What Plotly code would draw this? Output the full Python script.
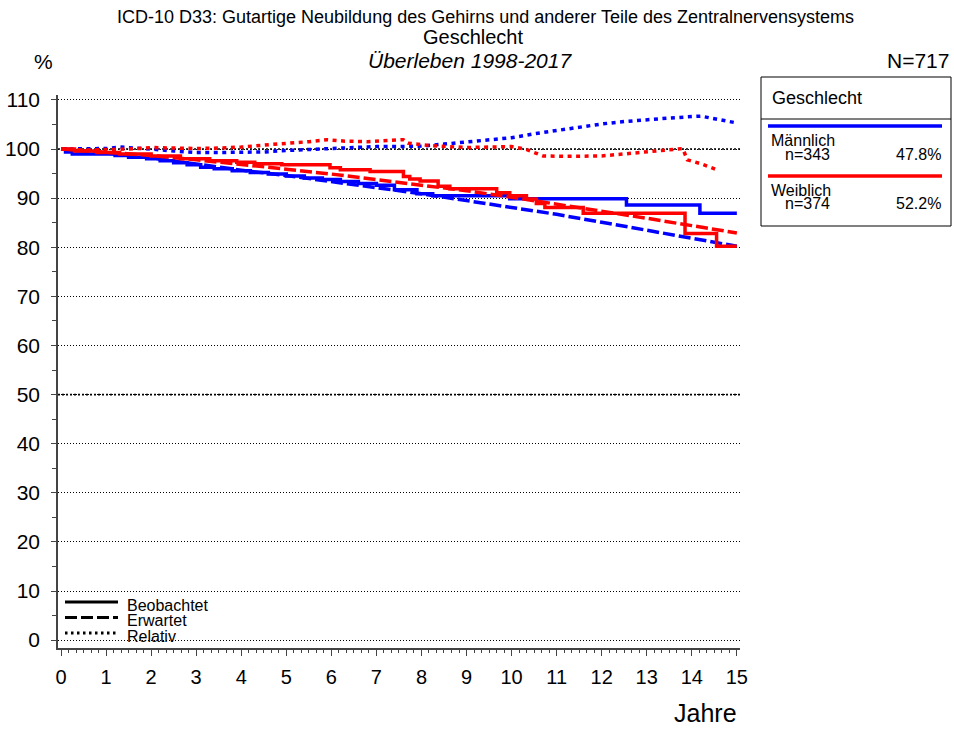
import plotly.graph_objects as go

# ---------------- data ----------------
years_exp = [0, 1, 2, 3, 4, 5, 6, 7, 8, 9, 10, 11, 12, 13, 14, 15]
male_expected = [100, 99.2, 98.2, 96.9, 95.7, 94.6, 93.4, 92.2, 90.9, 89.5, 88.1, 86.7, 85.1, 83.5, 81.9, 80.2]
female_expected = [100, 99.4, 98.7, 97.8, 96.9, 95.9, 94.9, 93.8, 92.7, 91.5, 90.2, 88.8, 87.3, 85.9, 84.4, 82.9]

male_obs_t = [0, 0.1, 0.25, 1.2, 1.5, 1.9, 2.2, 2.5, 2.8, 3.1, 3.4, 3.8, 4.2, 4.6, 5.0, 5.4, 5.8,
              6.2, 6.6, 7.0, 7.4, 7.9, 8.25, 9.96, 12.55, 14.18, 15]
male_obs_v = [100, 99.4, 99.0, 98.7, 98.3, 98.0, 97.6, 97.2, 96.8, 96.3, 96.0, 95.6, 95.2, 94.9, 94.5,
              94.1, 93.8, 93.4, 93.0, 92.6, 91.7, 90.9, 90.5, 89.9, 88.6, 86.9, 86.9]

female_obs_t = [0, 0.3, 0.8, 1.3, 2.0, 2.65, 3.3, 3.9, 4.3, 4.9, 5.97, 6.2, 6.86, 7.6, 7.74, 7.97,
                8.37, 8.63, 9.67, 9.96, 10.33, 10.55, 10.74, 11.59, 13.85, 14.55, 15]
female_obs_v = [100, 99.6, 99.3, 99.0, 98.6, 98.0, 97.6, 97.3, 97.0, 96.8, 96.2, 95.8, 95.4, 94.4,
                93.9, 93.5, 92.4, 91.9, 91.1, 90.5, 89.8, 88.9, 88.1, 86.9, 82.8, 80.2, 80.2]

male_rel_t = [0, 0.5, 1, 1.3, 1.7, 2, 2.5, 3, 3.5, 4, 4.5, 5, 5.5, 6, 6.5, 7, 7.5, 8, 8.5, 9, 9.5,
              10, 10.5, 11, 11.5, 12, 12.5, 13, 13.5, 14, 14.2, 14.6, 15]
male_rel_v = [100, 100, 100.1, 100.4, 100.2, 100, 99.6, 99.3, 99.3, 99.3, 99.4, 99.7, 99.9, 100,
              100.2, 100.5, 100.5, 100.6, 101, 101.4, 101.8, 102.3, 103.1, 103.8, 104.5, 105.1,
              105.6, 106, 106.3, 106.6, 106.7, 106, 105.3]

female_rel_t = [0, 0.5, 1, 1.5, 2, 2.5, 3, 3.5, 4, 4.5, 5, 5.5, 5.9, 6.3, 6.8, 7.2, 7.6, 7.7, 8.2,
                8.6, 9, 9.5, 10, 10.3, 10.7, 11.2, 12, 12.5, 13, 13.5, 13.8, 13.9, 14.2, 14.55]
female_rel_v = [100, 99.8, 99.9, 100, 100.3, 100.2, 100.1, 100.2, 100.4, 100.8, 101.1, 101.5, 101.9,
                101.6, 101.5, 101.7, 101.9, 101.2, 100.7, 100.5, 100.3, 100.4, 100.5, 100, 98.6,
                98.5, 98.6, 99, 99.4, 99.8, 100.1, 97.8, 97, 95.8]

x_ticks = list(range(0, 16))
y_ticks = list(range(0, 111, 10))

groups = ["Männlich", "Weiblich"]
group_n = ["n=343", "n=374"]
group_pct = ["47.8%", "52.2%"]
group_colors = ["#0000ff", "#ff0000"]
style_labels = ["Beobachtet", "Erwartet", "Relativ"]

# ---------------- layout helpers ----------------
W, H = 954, 729
L, R, T, B = 58, 740, 95, 648
FONT = "Liberation Sans, Arial, sans-serif"
DOT = "4px,4.5px"
DASH = "12px,4px"


def px(x):
    return (x - L) / (R - L)


def py(y):
    return (B - y) / (B - T)


fig = go.Figure()

series = [
    (male_obs_t, male_obs_v, group_colors[0], "solid", "hv"),
    (years_exp, male_expected, group_colors[0], DASH, "linear"),
    (male_rel_t, male_rel_v, group_colors[0], DOT, "linear"),
    (female_obs_t, female_obs_v, group_colors[1], "solid", "hv"),
    (years_exp, female_expected, group_colors[1], DASH, "linear"),
    (female_rel_t, female_rel_v, group_colors[1], DOT, "linear"),
]
for t, v, c, d, s in series:
    fig.add_trace(go.Scatter(x=t, y=v, mode="lines",
                             line=dict(color=c, width=3.5, dash=d, shape=s),
                             showlegend=False, hoverinfo="skip"))

# stronger dotted reference lines at 50 and 100
for yv in (50, 100):
    fig.add_shape(type="line", xref="paper", yref="y", x0=0, x1=1, y0=yv, y1=yv,
                  line=dict(color="black", width=1.6, dash="2px,2px"), layer="below")

ann = []
shapes = []


def text(x, y, s, size, xanchor="left", yanchor="middle", italic=False):
    ann.append(dict(x=px(x), y=py(y), xref="paper", yref="paper", text=s, showarrow=False,
                    xanchor=xanchor, yanchor=yanchor,
                    font=dict(family=FONT, size=size, color="black",
                              style="italic" if italic else "normal")))


# titles
text(485, 17, "ICD-10 D33: Gutartige Neubildung des Gehirns und anderer Teile des Zentralnervensystems", 18, "center")
text(473, 37, "Geschlecht", 20, "center")
text(470, 60, "Überleben 1998-2017", 21, "center", italic=True)
text(43, 62, "%", 21, "center")
text(951, 61, "N=717", 21, "right")
text(705, 713, "Jahre", 25, "center")

# right legend box
shapes.append(dict(type="rect", xref="paper", yref="paper", x0=px(761), x1=px(951), y0=py(77), y1=py(226),
                   line=dict(color="black", width=1), fillcolor="white"))
shapes.append(dict(type="line", xref="paper", yref="paper", x0=px(761), x1=px(951), y0=py(119), y1=py(119),
                   line=dict(color="black", width=1)))
text(770, 98, "Geschlecht", 18)
for i, g in enumerate(groups):
    y0 = 126 + 50 * i
    shapes.append(dict(type="line", xref="paper", yref="paper", x0=px(768), x1=px(942), y0=py(y0), y1=py(y0),
                       line=dict(color=group_colors[i], width=3.5)))
    text(769, y0 + 14, g, 16)
    text(783, y0 + 28, group_n[i], 16)
    text(943, y0 + 28, group_pct[i], 16, "right")

# bottom-left line style legend
for i, (lab, d) in enumerate(zip(style_labels, ["solid", DASH, "2.5px,3.5px"])):
    y0 = 602 + 15.5 * i
    shapes.append(dict(type="line", xref="paper", yref="paper", x0=px(65), x1=px(118), y0=py(y0), y1=py(y0),
                       line=dict(color="black", width=3, dash=d)))
    text(125, y0 + 3, lab, 16)

fig.update_layout(
    width=W, height=H,
    margin=dict(l=L, r=W - R, t=T, b=H - B, pad=0, autoexpand=False),
    paper_bgcolor="white", plot_bgcolor="white",
    annotations=ann, shapes=list(fig.layout.shapes) + shapes,
    font=dict(family=FONT, color="black"),
    showlegend=False,
)

fig.update_xaxes(
    automargin=False,
    range=[-0.067, 15.07], tickmode="array", tickvals=x_ticks, ticktext=[str(v) for v in x_ticks],
    showgrid=False, zeroline=False, showline=True, linecolor="#444", linewidth=1.5,
    ticks="outside", ticklen=6, tickwidth=1.2, tickcolor="#444",
    tickfont=dict(family=FONT, size=20, color="black"), ticklabelstandoff=4,
    minor=dict(dtick=1 / 6, tick0=0, ticks="outside", ticklen=3.5, tickwidth=1, tickcolor="#444", showgrid=False),
)
fig.update_yaxes(
    automargin=False,
    range=[-1.6, 111.0], tickmode="array", tickvals=y_ticks, ticktext=[str(v) for v in y_ticks],
    showgrid=True, gridcolor="black", gridwidth=1, griddash="1px,2px",
    zeroline=False, showline=True, linecolor="#444", linewidth=1.5,
    ticks="outside", ticklen=5, tickwidth=1.2, tickcolor="#444",
    tickfont=dict(family=FONT, size=21, color="black"), ticklabelstandoff=7,
    minor=dict(dtick=5, tick0=0, ticks="outside", ticklen=4, tickwidth=1, tickcolor="#444", showgrid=False),
)

fig.write_html("out.html", config={"displayModeBar": False},
               post_script="document.body.style.margin='0';document.body.style.overflow='hidden';")
